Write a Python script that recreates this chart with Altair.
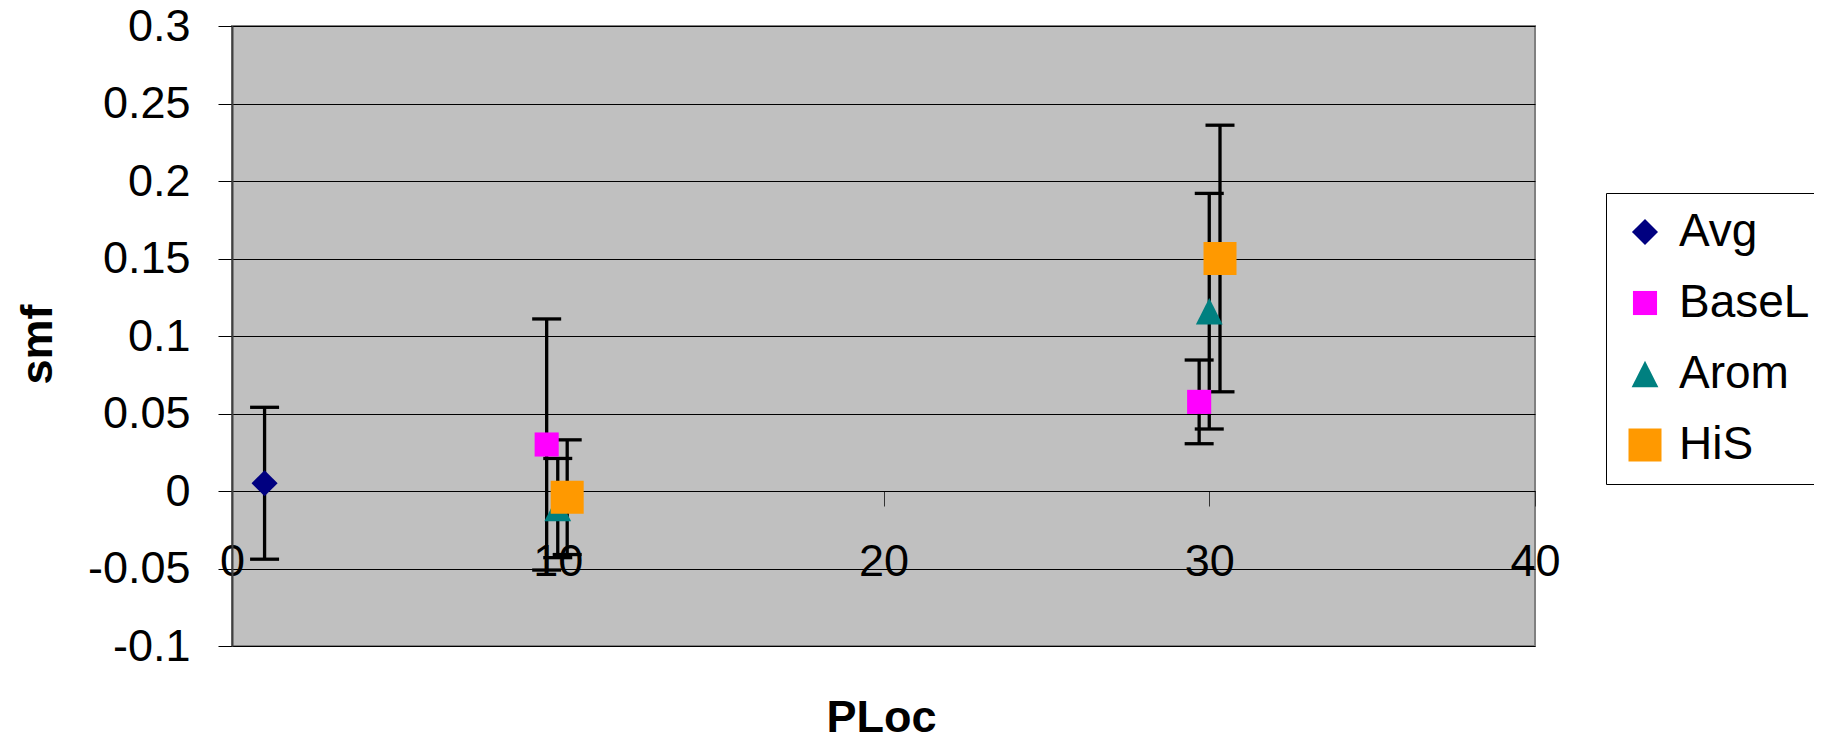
import altair as alt
import pandas as pd

# ---- data ----
series_names = ["Avg", "BaseL", "Arom", "HiS"]
series_colors = ["#000080", "#FF00FF", "#008080", "#FF9900"]
# custom symbol paths (unit = half of the 33 px square side)
series_shapes = [
    "M-0.79,0L0,-0.79L0.79,0L0,0.79Z",          # diamond
    "M-0.73,-0.73H0.73V0.73H-0.73Z",            # small square
    "M0,-0.8L0.81,0.8L-0.81,0.8Z",              # triangle
    "M-1,-1H1V1H-1Z",                           # big square
]

avg_x = [1.0]
avg_y = [0.005]
avg_err = [0.049]

basel_x = [9.66, 29.69]
basel_y = [0.030, 0.0575]
basel_err = [0.081, 0.027]

arom_x = [10.0, 30.0]
arom_y = [-0.011, 0.116]
arom_err = [0.032, 0.076]

his_x = [10.29, 30.33]
his_y = [-0.004, 0.150]
his_err = [0.037, 0.086]

x_ticks = [0, 10, 20, 30, 40]
y_ticks = [-0.1, -0.05, 0, 0.05, 0.1, 0.15, 0.2, 0.25, 0.3]

rows = []
for name, xs, ys, es in [
    ("Avg", avg_x, avg_y, avg_err),
    ("BaseL", basel_x, basel_y, basel_err),
    ("Arom", arom_x, arom_y, arom_err),
    ("HiS", his_x, his_y, his_err),
]:
    for xv, yv, ev in zip(xs, ys, es):
        rows.append({"series": name, "x": xv, "y": yv, "lo": yv - ev, "hi": yv + ev})
df = pd.DataFrame(rows)

FONT = "Liberation Sans"
W, H = 1303, 620

x_axis = alt.Axis(
    values=x_ticks, offset=-155, grid=False,
    domainColor="black", domainWidth=1,
    tickColor="#333333", tickSize=15, tickWidth=1,
    labelFontSize=45, labelPadding=33, labelFlush=False, labelOverlap=False,
    labelColor="black", labelFont=FONT,
    title="PLoc", titleFontSize=45, titleFontWeight="bold", titleFont=FONT,
    titleX=649, titleY=240, titleAlign="center", titleBaseline="alphabetic",
    titleColor="black",
)
y_axis = alt.Axis(
    values=y_ticks, grid=True, gridColor="black", gridWidth=1, gridOpacity=1,
    domainColor="#404040", domainWidth=2,
    tickColor="black", tickSize=14, tickWidth=1,
    labelFontSize=45, labelPadding=28, labelFlush=False, labelOverlap=False,
    labelColor="black", labelFont=FONT,
    labelExpr="toString(round(datum.value*100)/100)",
    title="smf", titleFontSize=45, titleFontWeight="bold", titleFont=FONT,
    titleAngle=270, titleX=-181, titleY=318, titleAlign="center",
    titleBaseline="alphabetic", titleColor="black",
)

x_scale = alt.Scale(domain=[0, 40], nice=False, zero=False)
y_scale = alt.Scale(domain=[-0.1, 0.3], nice=False, zero=False)


def xenc():
    return alt.X("x:Q", scale=x_scale, axis=x_axis)


def yenc(field):
    return alt.Y(f"{field}:Q", scale=y_scale, axis=y_axis)


base = alt.Chart(df)

bars = base.mark_rule(color="black", strokeWidth=3.3).encode(
    x=xenc(), y=yenc("lo"), y2=alt.Y2("hi:Q")
)
cap_hi = base.mark_tick(color="black", size=29, thickness=3.3, orient="horizontal", opacity=1).encode(
    x=xenc(), y=yenc("hi")
)
cap_lo = base.mark_tick(color="black", size=29, thickness=3.3, orient="horizontal", opacity=1).encode(
    x=xenc(), y=yenc("lo")
)

legend = alt.Legend(
    orient="none", legendX=1374, legendY=167, title=None,
    labelFontSize=46, labelFont=FONT, labelColor="black",
    padding=16, strokeColor="black", fillColor="white",
    rowPadding=25, labelOffset=11, symbolSize=1089,
    symbolStrokeWidth=0, symbolOpacity=1,
)

points = base.mark_point(filled=True, opacity=1, size=1089, strokeWidth=0).encode(
    x=xenc(),
    y=yenc("y"),
    color=alt.Color("series:N", scale=alt.Scale(domain=series_names, range=series_colors), legend=legend, sort=series_names),
    shape=alt.Shape("series:N", scale=alt.Scale(domain=series_names, range=series_shapes), legend=legend, sort=series_names),
)

chart = alt.layer(bars, cap_hi, cap_lo, points).properties(
    width=W, height=H,
    background="white",
    autosize=alt.AutoSizeParams(type="none"),
    padding={"left": 224, "top": 18, "right": 279, "bottom": 95},
).configure_view(
    fill="#C0C0C0", stroke="#808080", strokeWidth=2
)

chart.save("out.html", embed_options={"renderer": "svg", "actions": False})
